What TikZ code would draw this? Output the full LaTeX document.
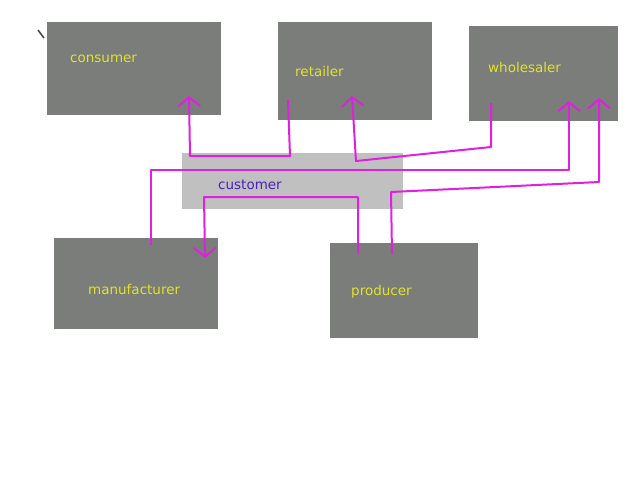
\documentclass[tikz,border=0pt]{standalone}
\usepackage{fontspec}
\setmainfont{DejaVu Sans}
\usetikzlibrary{arrows.meta}

\definecolor{boxgray}{HTML}{7A7D79}
\definecolor{lightbox}{HTML}{C0C0C0}
\definecolor{labelyellow}{HTML}{E2E22A}
\definecolor{labelblue}{HTML}{4A20C8}
\definecolor{linkpink}{HTML}{E020E0}

\tikzset{
  box/.style={fill=boxgray,inner sep=0pt,outer sep=0pt,anchor=north west},
  boxtext/.style={text=labelyellow,font=\fontsize{13.5}{15}\selectfont,anchor=west,inner sep=0pt},
  link/.style={draw=linkpink,line width=2pt,line join=round},
  linkarrow/.style={link,-{Straight Barb[length=9pt,width=22pt,line width=2pt]}}
}

\begin{document}
\begin{tikzpicture}[x=1pt,y=-1pt]
    \fill[white] (0,0) rectangle (640,480);
    \useasboundingbox (0,0) rectangle (640,480);

    \draw[boxgray!60!black,line width=1.6pt] (38,30) -- (44,38);

    \node at (47,22) [box,minimum width=174pt,minimum height=93pt] (consumer) {};
    \node at (278,22) [box,minimum width=154pt,minimum height=98pt] (retailer) {};
    \node at (469,26) [box,minimum width=149pt,minimum height=95pt] (wholesaler) {};
    \node at (182,153) [box,fill=lightbox,minimum width=221pt,minimum height=56pt] (customer) {};
    \node at (54,238) [box,minimum width=164pt,minimum height=91pt] (manufacturer) {};
    \node at (330,243) [box,minimum width=148pt,minimum height=95pt] (producer) {};

    \node at (70,59) [boxtext] {consumer};
    \node at (295,71) [boxtext] {retailer};
    \node at (488,67) [boxtext] {wholesaler};
    \node at (218,185) [boxtext,text=labelblue] {customer};
    \node at (88,289) [boxtext] {manufacturer};
    \node at (351,292) [boxtext] {producer};

    % connector end points inside the boxes
    \coordinate (retailer out) at (288,100);
    \coordinate (consumer in) at (189,96);
    \coordinate (wholesaler out) at (491,103);
    \coordinate (retailer in) at (352,96);
    \coordinate (manufacturer out) at (151,245);
    \coordinate (wholesaler in a) at (569,101);
    \coordinate (producer out a) at (392,254);
    \coordinate (wholesaler in b) at (599,98);
    \coordinate (producer out b) at (358,253);
    \coordinate (manufacturer in) at (205,258);

    \draw [linkarrow] (retailer out) -- (290,156) -- (190,156) -- (consumer in);
    \draw [linkarrow] (wholesaler out) -- (491,147) -- (356,161) -- (retailer in);
    \draw [linkarrow] (manufacturer out) -- (151,170) -- (569,170) -- (wholesaler in a);
    \draw [linkarrow] (producer out a) -- (391,192) -- (599,182) -- (wholesaler in b);
    \draw [linkarrow] (producer out b) -- (358,197) -- (204,197) -- (manufacturer in);
  \end{tikzpicture}
\end{document}
